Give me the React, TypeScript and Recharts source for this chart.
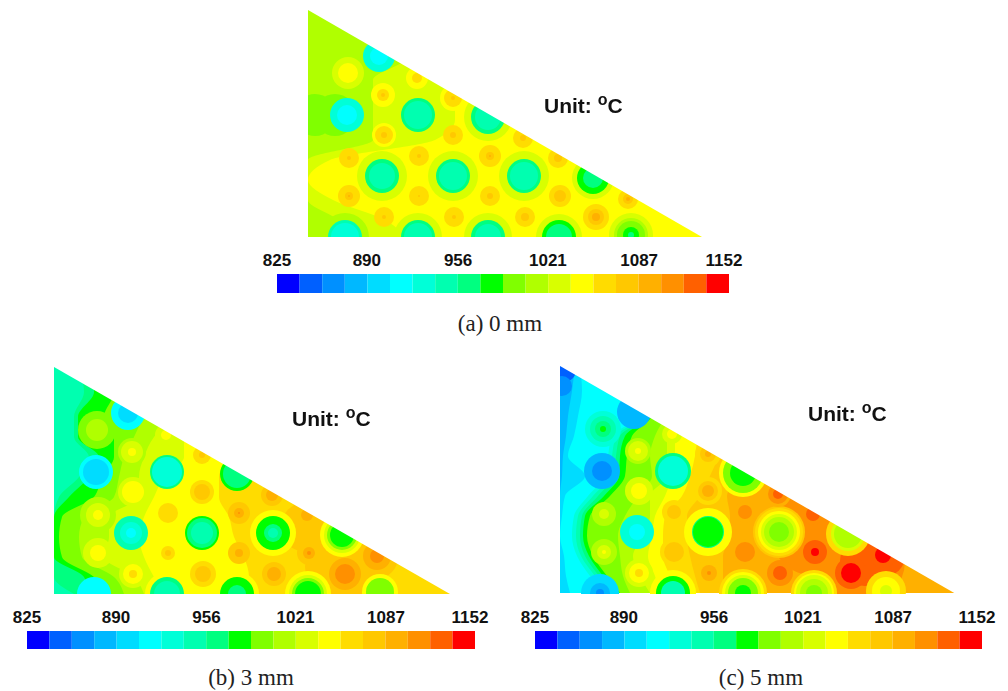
import React from "react";
import { AreaChart, Area, ComposedChart, Scatter, BarChart, Bar, XAxis, YAxis } from "recharts";

// 20 colour bands of the temperature legend
const BAND_COLORS = ["#0000ff","#0060ff","#0090ff","#00b8ff","#00dcff","#00ffff","#00ffd8","#00ffb0","#00ff80","#00ff00","#80ff00","#b0ff00","#d8ff00","#ffff00","#ffdc00","#ffc800","#ffb000","#ff9000","#ff6000","#ff0000"];
const LEGEND_TICKS = [825, 890, 956, 1021, 1087, 1152];
const BAND_STEP = 16.35;

// Plate coordinates of the cooling holes and of the hot spots between them
const COOL_X = [74,42,113,183,77,148,219,288,40,113,183,254,326];
const COOL_Y = [46,105,105,107,166,166,166,168,227,227,227,227,225];
const HOT_X = [43,78,112,148,79,148,218,44,114,185,253,44,114,185,255,323,79,149,220,291];
const HOT_Y = [63,85,68,88,125,125,128,148,146,146,148,186,186,186,186,189,207,207,207,207];

// Rows of the broad iso-temperature fronts (x reached by each band at height y)
const ROW_Y = [0,25,50,70,90,110,130,150,170,190,210,227];

const FRONTS_A: [number, number[]][] = [
  [12,[130,130,135,140,150,150,130,25,3,28,80,100]],
  [11,[110,110,100,68,68,68,68,3,3,3,33,43]],
];
const FRONTS_B: [number, number[]][] = [
  [13,[210,210,190,180,175,165,165,175,180,190,195,195]],
  [12,[160,160,150,130,130,110,100,90,85,90,100,110]],
  [11,[140,140,120,100,90,85,85,55,55,50,80,90]],
  [10,[90,110,90,80,70,65,60,30,25,28,60,70]],
  [9,[50,60,50,60,60,48,40,8,5,8,40,50]],
  [8,[40,40,24,24,45,35,15,0,0,0,30,35]],
  [7,[25,30,20,20,35,25,5,0,0,0,0,20]],
];
const FRONTS_C: [number, number[]][] = [
  [15,[180,180,180,178,177,177,167,170,170,163,163,163]],
  [14,[160,160,160,150,157,150,140,127,127,130,135,140]],
  [13,[135,135,137,137,135,130,122,105,103,103,110,117]],
  [12,[125,125,120,115,115,112,105,95,92,88,95,100]],
  [11,[110,110,110,107,107,107,90,90,83,73,80,90]],
  [10,[110,110,105,95,90,92,78,65,58,60,63,70]],
  [9,[97,97,92,72,67,65,50,30,27,33,47,60]],
  [8,[93,93,88,65,60,59,44,25,23,29,43,56]],
  [7,[92,92,87,60,56,54,38,22,20,25,39,52]],
  [6,[90,90,84,56,52,50,33,18,16,21,35,48]],
  [5,[85,85,80,52,48,45,28,14,12,17,30,44]],
  [4,[20,22,18,14,8,25,5,2,0,4,6,10]],
  [3,[15,12,8,6,3,2,0,0,0,0,0,0]],
];

// Rings: [radius, band], outermost first
type Ring = [number, number];
const HOT_A: Ring[][] = [
  [[16,12],[10,13]],[[12,13],[6,14],[2,15]],[[11,13],[5,14]],[[13,13],[9,14],[2,15]],
  [[12,13],[9,14],[3,15]],[[10,14],[3,15]],[[10,14],[3,15]],[[10,14],[2,15]],
  [[10,14],[2,15]],[[11,14],[4,15],[1,16]],[[10,14],[4,15]],[[11,14],[4,15],[1,16]],
  [[10,14],[1,15]],[[10,14],[3,15]],[[11,14],[6,15]],[[10,14],[5,15],[2,16]],
  [[10,14],[2,15]],[[10,14],[2,15]],[[10,14],[4,15]],[[13,14],[8,15],[4,16]],
];
const COOL_A: Ring[][] = [
  [[16,6],[9,5]],[[17,6],[10,5]],[[17,8],[14,7]],[[17,8],[13,7]],[[17,8],[13,7]],
  [[17,8],[14,7]],[[17,8],[14,7]],[[16,9],[10,8]],[[17,7],[14,6]],[[17,8],[14,7]],
  [[17,8],[13,7]],[[17,9],[13,8]],[[14,10],[8,9],[3,8]],
];
const HALO_A: [number, number, number][] = [
  [2,25,12],[3,24,12],[4,25,12],[5,25,12],[6,25,12],[7,21,12],[9,24,12],[10,24,12],[11,23,12],[12,22,12],[12,17,11],[8,24,11],
];
const SPOT_A: [number, number, number, number][] = [
  [10,105,21,10],[30,105,21,10],
];

const HOT_B: Ring[][] = [
  [[19,10],[11,11]],[[14,11],[11,12],[4,13]],[[11,12],[5,13]],[[13,13],[9,14],[3,15]],
  [[15,12],[11,13]],[[12,14],[8,15]],[[11,15],[6,16]],[[18,11],[12,12],[5,13]],
  [[14,13],[10,14]],[[11,15],[5,16],[1,17]],[[10,15],[6,16]],[[15,12],[8,13]],
  [[13,13],[7,14],[3,15]],[[11,15],[4,16]],[[12,15],[6,16],[2,17]],[[14,16],[7,17]],
  [[14,12],[10,13],[4,14]],[[13,14],[8,15]],[[12,15],[7,16]],[[16,16],[10,17]],
];
const COOL_B: Ring[][] = [
  [[17,5],[10,4]],[[17,5],[13,4]],[[17,8],[15,6]],[[17,9],[14,8]],[[17,7],[11,6],[5,5]],
  [[17,9],[15,8],[11,7]],[[17,9],[9,8],[5,7]],[[18,12],[15,10],[12,9]],[[17,5]],[[17,8],[13,7]],
  [[17,9],[9,8]],[[19,12],[16,10],[13,9]],[[14,10]],
];
const HALO_B: [number, number, number][] = [
  [5,23,13],[6,23,13],[7,22,13],[9,22,13],[10,22,13],[11,23,13],[12,18,13],
];
const SPOT_B: [number, number, number, number][] = [
  [289,200,38,15],[322,190,22,15],[252,160,25,15],[258,130,20,15],
];

const HOT_C: Ring[][] = [
  [[18,6],[13,7],[8,8],[3,9]],[[13,11],[10,12],[3,13]],[[10,12],[5,13]],[[13,14],[8,15],[3,16]],
  [[14,12],[8,13]],[[14,14],[10,15],[6,16]],[[13,16],[10,17],[5,18]],[[12,11],[5,12]],
  [[12,14],[7,15]],[[11,16],[7,17]],[[11,17],[7,18]],[[13,11],[7,12],[2,13]],
  [[14,14],[10,15]],[[13,16],[10,17]],[[12,18],[4,19]],[[13,18],[8,19]],
  [[14,12],[10,13],[4,14]],[[13,15],[8,16],[2,17]],[[13,17],[7,18]],[[16,18],[10,19]],
];
const COOL_C: Ring[][] = [
  [[17,3]],[[18,3],[10,2]],[[18,8],[15,6]],[[20,10],[13,9]],[[17,6],[8,5]],
  [[16,8],[15,9]],[[18,12],[15,11],[10,10]],[[17,12],[14,11]],[[19,4],[10,3],[4,2]],[[17,9],[12,7]],
  [[18,12],[15,10],[8,9]],[[18,12],[14,11],[8,10]],[[14,13],[6,12]],
];
const HALO_C: [number, number, number][] = [
  [3,24,13],[5,24,13],[6,26,15],[6,24,14],[6,21,13],[7,22,14],[9,23,13],[10,24,14],[10,21,13],[11,23,14],[11,20,13],[12,20,14],
];
const SPOT_C: [number, number, number, number][] = [
  [255,165,45,17],[300,195,45,17],[260,130,22,17],[305,195,25,18],[325,190,20,18],[4,4,12,1],[2,20,10,2],
];

const CAPTIONS = ["(a) 0 mm", "(b) 3 mm", "(c) 5 mm"];
const SANS = "'Liberation Sans', Arial, sans-serif";

type Blob = { x: number; y: number; r: number; band: number };

function collect(spots: number[][], halos: number[][], hot: Ring[][], cool: Ring[][]): Blob[] {
  const out: Blob[] = [];
  spots.forEach(([x, y, r, band]) => out.push({ x, y, r, band }));
  halos.forEach(([i, r, band]) => out.push({ x: COOL_X[i], y: COOL_Y[i], r, band }));
  hot.forEach((rings, i) => rings.forEach(([r, band]) => out.push({ x: HOT_X[i], y: HOT_Y[i], r, band })));
  cool.forEach((rings, i) => rings.forEach(([r, band]) => out.push({ x: COOL_X[i], y: COOL_Y[i], r, band })));
  return out;
}

const BlobShape = (p: any) => (
  <circle cx={p.cx} cy={p.cy} r={p.payload.r} fill={BAND_COLORS[p.payload.band]} />
);

function Field({ left, top, xMin, width, height, bgBand, fronts, blobs }: {
  left: number; top: number; xMin: number; width: number; height: number; bgBand: number;
  fronts: [number, number[]][]; blobs: Blob[];
}) {
  const xDomain: [number, number] = [xMin, xMin + width];
  const yDomain: [number, number] = [0, height];
  const layer: React.CSSProperties = { position: "absolute", left: 0, top: 0 };
  const rows = ROW_Y.map((y, i) => {
    const row: Record<string, number> = { y: Math.min(y, height), bg: xMin + width };
    fronts.forEach(([band, xs]) => { row["f" + band] = Math.max(xs[i], xMin); });
    return row;
  });
  const mask = [
    { x: xMin, range: [0, 0] },
    { x: xMin + width, range: [height, 0] },
  ];
  return (
    <div style={{ position: "absolute", left, top, width, height, overflow: "hidden" }}>
      <div style={layer}>
        <AreaChart width={width} height={height} data={rows} layout="vertical" margin={{ top: 0, right: 0, bottom: 0, left: 0 }}>
          <XAxis type="number" domain={xDomain} hide allowDataOverflow />
          <YAxis type="number" dataKey="y" domain={yDomain} hide />
          <Area dataKey="bg" type="linear" fill={BAND_COLORS[bgBand]} fillOpacity={1} stroke="none" isAnimationActive={false} />
          {fronts.map(([band]) => (
            <Area key={band} dataKey={"f" + band} type="monotone" fill={BAND_COLORS[band]} fillOpacity={1} stroke="none" isAnimationActive={false} />
          ))}
        </AreaChart>
      </div>
      <div style={layer}>
        <ComposedChart width={width} height={height} margin={{ top: 0, right: 0, bottom: 0, left: 0 }}>
          <XAxis type="number" dataKey="x" domain={xDomain} hide allowDataOverflow />
          <YAxis type="number" dataKey="y" domain={yDomain} reversed hide allowDataOverflow />
          <Scatter data={blobs} shape={BlobShape} isAnimationActive={false} />
        </ComposedChart>
      </div>
      <div style={layer}>
        <AreaChart width={width} height={height} data={mask} margin={{ top: 0, right: 0, bottom: 0, left: 0 }}>
          <XAxis type="number" dataKey="x" domain={xDomain} hide />
          <YAxis type="number" domain={yDomain} reversed hide />
          <Area dataKey="range" type="linear" fill="#ffffff" fillOpacity={1} stroke="none" isAnimationActive={false} />
        </AreaChart>
      </div>
    </div>
  );
}

const LegendTick = (p: any) => {
  const v = p.payload.value;
  return (
    <text x={p.x + (v === 1152 ? -5 : 0)} y={p.y} textAnchor="middle" fontFamily={SANS} fontWeight="bold" fontSize={17} fill="#111">
      {v}
    </text>
  );
};

function ColorLegend({ left, top, width, height }: { left: number; top: number; width: number; height: number }) {
  const row: Record<string, number | string> = { name: "T", base: LEGEND_TICKS[0] };
  BAND_COLORS.forEach((_, i) => { row["c" + i] = BAND_STEP; });
  const pad = 30;
  const headroom = 24;
  return (
    <div style={{ position: "absolute", left: left - pad, top: top - headroom }}>
      <BarChart width={width + 2 * pad} height={height + headroom} data={[row]} layout="vertical" barCategoryGap={0}
        margin={{ top: 0, right: pad, bottom: 0, left: pad }}>
        <XAxis type="number" orientation="top" domain={[825, 1152]} ticks={LEGEND_TICKS} height={headroom}
          axisLine={false} tickLine={false} tick={LegendTick} interval={0} allowDataOverflow />
        <YAxis type="category" dataKey="name" hide />
        <Bar dataKey="base" stackId="s" fill="none" isAnimationActive={false} />
        {BAND_COLORS.map((c, i) => (
          <Bar key={i} dataKey={"c" + i} stackId="s" fill={c} isAnimationActive={false} />
        ))}
      </BarChart>
    </div>
  );
}

const UnitLabel = ({ left, top }: { left: number; top: number }) => (
  <div style={{ position: "absolute", left, top, fontFamily: SANS, fontWeight: "bold", fontSize: 21, lineHeight: "24px", color: "#111", whiteSpace: "nowrap" }}>
    Unit: <span style={{ fontSize: 16, position: "relative", top: -8 }}>o</span>C
  </div>
);

const Caption = ({ text, cx, top }: { text: string; cx: number; top: number }) => (
  <div style={{ position: "absolute", left: cx - 80, width: 160, top, textAlign: "center", fontFamily: "'Liberation Serif', serif", fontSize: 23, lineHeight: "24px", color: "#222" }}>
    {text}
  </div>
);

export default function App() {
  return (
    <div style={{ position: "absolute", left: 0, top: 0, width: 1008, height: 691, background: "#fff", overflow: "hidden", filter: "blur(0.45px)" }}>
      <div style={{ filter: "blur(0.6px)" }}>
        <Field left={308} top={10} xMin={3} width={394} height={227} bgBand={13} fronts={FRONTS_A} blobs={collect(SPOT_A, HALO_A, HOT_A, COOL_A)} />
        <Field left={54} top={367} xMin={0} width={396} height={227} bgBand={14} fronts={FRONTS_B} blobs={collect(SPOT_B, HALO_B, HOT_B, COOL_B)} />
        <Field left={560} top={366} xMin={0} width={396} height={228} bgBand={16} fronts={FRONTS_C} blobs={collect(SPOT_C, HALO_C, HOT_C, COOL_C)} />
      </div>
      <ColorLegend left={277} top={274} width={452} height={19} />
      <ColorLegend left={27} top={631} width={448} height={18} />
      <ColorLegend left={535} top={631} width={447} height={18} />
      <UnitLabel left={544} top={94} />
      <UnitLabel left={292} top={407} />
      <UnitLabel left={808} top={402} />
      <Caption text={CAPTIONS[0]} cx={500} top={312} />
      <Caption text={CAPTIONS[1]} cx={251} top={666} />
      <Caption text={CAPTIONS[2]} cx={761} top={666} />
    </div>
  );
}
